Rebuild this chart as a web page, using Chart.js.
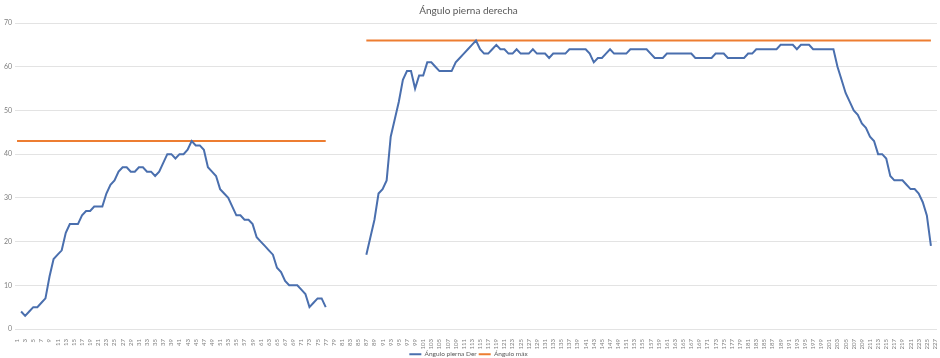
<!DOCTYPE html>
<html>
<head>
<meta charset="utf-8">
<script src="https://cdn.jsdelivr.net/npm/chart.js@4.4.1/dist/chart.umd.min.js"></script>
<style>
  html, body { margin: 0; padding: 0; background: #fff; }
</style>
</head>
<body>
<canvas id="cAngle" width="940" height="358"></canvas>
<script>
// categories 1..227 (sample index)
const categories = Array.from({length: 227}, (_, i) => String(i + 1));

const yTicks = [0, 10, 20, 30, 40, 50, 60, 70];

// Ángulo pierna Der
const anguloDer = [
  null,
  4,3,4,5,5,6,7,12,16,17,18,22,24,24,24,26,27,27,28,28,
  28,31,33,34,36,37,37,36,36,37,37,36,36,35,36,38,40,
  40,39,40,40,41,43,42,42,41,37,36,35,32,31,30,28,26,26,25,25,
  24,21,20,19,18,17,14,13,11,10,10,10,9,8,5,6,7,7,5,
  null,null,null,null,null,null,null,null,null,
  17,21,25,31,32,34,44,48,52,57,59,59,55,58,58,61,61,60,59,59,
  59,59,61,62,63,64,65,66,64,63,63,64,65,64,64,63,63,64,63,
  63,63,64,63,63,63,62,63,63,63,63,64,64,64,64,64,63,61,62,62,
  63,64,63,63,63,63,64,64,64,64,64,63,62,62,62,63,63,63,63,
  63,63,63,62,62,62,62,62,63,63,63,62,62,62,62,62,63,63,64,64,
  64,64,64,64,65,65,65,65,64,65,65,65,64,64,64,64,64,64,
  60,57,54,52,50,49,47,46,44,43,40,40,39,35,34,34,34,33,32,32,31,29,26,19,
  null
];

// Ángulo máx
const anguloMax = [
  43,43,43,43,43,43,43,43,43,43,43,43,43,43,43,43,43,43,43,43,
  43,43,43,43,43,43,43,43,43,43,43,43,43,43,43,43,43,43,43,43,
  43,43,43,43,43,43,43,43,43,43,43,43,43,43,43,43,43,43,43,43,
  43,43,43,43,43,43,43,43,43,43,43,43,43,43,43,43,43,
  null,null,null,null,null,null,null,null,null,
  66,66,66,66,66,66,66,66,66,66,66,66,66,66,66,66,66,66,66,66,
  66,66,66,66,66,66,66,66,66,66,66,66,66,66,66,66,66,66,66,66,
  66,66,66,66,66,66,66,66,66,66,66,66,66,66,66,66,66,66,66,66,
  66,66,66,66,66,66,66,66,66,66,66,66,66,66,66,66,66,66,66,66,
  66,66,66,66,66,66,66,66,66,66,66,66,66,66,66,66,66,66,66,66,
  66,66,66,66,66,66,66,66,66,66,66,66,66,66,66,66,66,66,66,66,
  66,66,66,66,66,66,66,66,66,66,66,66,66,66,66,66,66,66,66,66,
  null
];

const fontFamily = 'Lato, "Liberation Sans", sans-serif';

window.addEventListener('load', () => {
  const cAngle = document.getElementById('cAngle');
  new Chart(cAngle, {
    type: 'line',
    data: {
      labels: categories,
      datasets: [{
        label: 'Ángulo pierna Der',
        data: anguloDer,
        borderColor: '#4a6fae',
        backgroundColor: '#4a6fae',
        borderWidth: 2,
        pointRadius: 0,
        tension: 0,
        spanGaps: false,
      }, {
        label: 'Ángulo máx',
        data: anguloMax,
        borderColor: '#ed7d31',
        backgroundColor: '#ed7d31',
        borderWidth: 2,
        pointRadius: 0,
        tension: 0,
        spanGaps: false,
      }]
    },
    options: {
      responsive: false,
      animation: false,
      layout: { padding: { left: 0, right: 3, top: 0, bottom: 0 } },
      plugins: {
        title: {
          display: true,
          text: 'Ángulo pierna derecha',
          color: '#595959',
          font: { family: fontFamily, size: 10, weight: 'normal' },
          padding: { top: 5, bottom: 6 },
        },
        legend: {
          position: 'bottom',
          maxHeight: 9,
          labels: {
            color: '#595959',
            font: { family: fontFamily, size: 6.5 },
            usePointStyle: true,
            pointStyle: 'line',
            pointStyleWidth: 12,
            boxHeight: 7,
            padding: 2,
          }
        },
        tooltip: { enabled: false },
      },
      scales: {
        x: {
          offset: true,
          grid: { display: false },
          border: { display: false },
          ticks: {
            autoSkip: false,
            minRotation: 90,
            maxRotation: 90,
            padding: 2,
            color: '#7f7f7f',
            font: { family: fontFamily, size: 6 },
            // Excel shows every second category label
            callback: (val, idx) => idx % 2 === 0 ? categories[idx] : '',
          },
          afterFit: (scale) => {
            scale.height = 20;
            scale.paddingLeft = 0;
            scale.paddingRight = 0;
          },
        },
        y: {
          min: 0,
          max: 70,
          afterBuildTicks: (scale) => { scale.ticks = yTicks.map(v => ({value: v})); },
          grid: { color: '#e3e3e3', drawTicks: false, lineWidth: 1 },
          border: { display: false },
          ticks: {
            padding: 3,
            color: '#7f7f7f',
            font: { family: fontFamily, size: 7 },
          },
          afterFit: (scale) => { scale.width = 15; },
        }
      }
    }
  });
});
</script>
</body>
</html>
